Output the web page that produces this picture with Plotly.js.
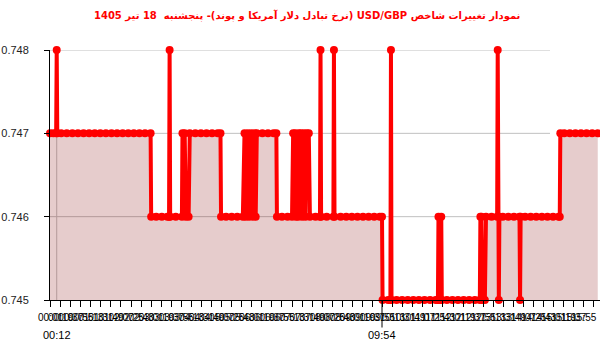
<!DOCTYPE html>
<html>
<head>
<meta charset="utf-8">
<script src="https://cdn.plot.ly/plotly-3.0.1.min.js"></script>
<style>html,body{margin:0;padding:0;background:#fff;}#chart{width:600px;height:352px;}</style>
</head>
<body>
<div id="chart"></div>
<script>
var day = '2025-07-09 ';
var times = [
 '00:00','00:06','00:11','00:12','00:13','00:20','00:30','00:40','00:50','01:00','01:10','01:20','01:30','01:40','01:50',
 '02:00','02:10','02:20','02:30','02:40','02:50','03:00','03:01','03:10','03:20','03:30','03:33','03:34','03:35','03:45',
 '03:56','03:57','04:01','04:03','04:08','04:10','04:20','04:30','04:40','04:50','05:00','05:05','05:06','05:15','05:25',
 '05:35','05:45','05:48','05:50','05:54','05:56','06:00','06:03','06:06','06:08','06:10','06:20','06:30','06:40','06:45',
 '06:46','06:55','07:05','07:13','07:15','07:19','07:20','07:24','07:25','07:29','07:31','07:34','07:37','07:39','07:43',
 '07:45','07:55','08:03','08:04','08:05','08:15','08:27','08:28','08:29','08:40','08:50','09:00','09:10','09:20','09:30',
 '09:40','09:50','09:54','09:55','10:05','10:09','10:10','10:11','10:20','10:30','10:40','10:50','11:00','11:10','11:20',
 '11:30','11:34','11:35','11:36','11:39','11:40','11:41','11:50','12:00','12:10','12:20','12:30','12:40','12:49','12:50',
 '12:52','12:53','12:58','13:00','13:10','13:20','13:21','13:23','13:24','13:30','13:40','13:50','14:00','14:01','14:02',
 '14:10','14:20','14:30','14:40','14:50','15:00','15:10','15:12','15:13','15:20','15:30','15:40','15:50','16:00','16:10',
 '16:20'
];
var values = [
 0.747,0.747,0.747,0.748,0.747,0.747,0.747,0.747,0.747,0.747,0.747,0.747,0.747,0.747,0.747,
 0.747,0.747,0.747,0.747,0.747,0.747,0.747,0.746,0.746,0.746,0.746,0.746,0.748,0.746,0.746,
 0.746,0.747,0.747,0.746,0.746,0.747,0.747,0.747,0.747,0.747,0.747,0.747,0.746,0.746,0.746,
 0.746,0.746,0.747,0.746,0.747,0.746,0.747,0.746,0.747,0.746,0.747,0.747,0.747,0.747,0.747,
 0.746,0.746,0.746,0.746,0.747,0.747,0.746,0.746,0.747,0.747,0.746,0.747,0.746,0.747,0.747,
 0.746,0.746,0.746,0.748,0.746,0.746,0.746,0.748,0.746,0.746,0.746,0.746,0.746,0.746,0.746,
 0.746,0.746,0.746,0.745,0.745,0.745,0.748,0.745,0.745,0.745,0.745,0.745,0.745,0.745,0.745,
 0.745,0.745,0.746,0.745,0.745,0.746,0.745,0.745,0.745,0.745,0.745,0.745,0.745,0.745,0.746,
 0.746,0.745,0.745,0.746,0.746,0.746,0.748,0.745,0.746,0.746,0.746,0.746,0.746,0.745,0.746,
 0.746,0.746,0.746,0.746,0.746,0.746,0.746,0.746,0.747,0.747,0.747,0.747,0.747,0.747,0.747,
 0.747
];
var yTicks = [0.745, 0.746, 0.747, 0.748];
var markTimes = ['00:12', '09:54'];
var titleText = 'نمودار تغییرات شاخص USD/GBP (نرخ تبادل دلار آمریکا و پوند)- پنجشنبه  18 تیر 1405';

var x = times.map(function(t){ return day + t; });

var trace = {
  x: x, y: values, type: 'scatter', mode: 'lines+markers',
  line: {color: '#ff0000', width: 4},
  marker: {color: '#ff0000', size: 8},
  fill: 'tozeroy', fillcolor: 'rgba(128,0,0,0.2)',
  cliponaxis: false, hoverinfo: 'none'
};

var shapes = yTicks.slice(1).map(function(v){
  return {type:'line', xref:'paper', yref:'y', x0:0, x1:500/550, y0:v, y1:v,
          line:{color:'#c0c0c0', width:1}, layer:'below'};
});
shapes.push({type:'line', xref:'x', yref:'paper', x0:day+markTimes[0], x1:day+markTimes[0], y0:0, y1:1,
             line:{color:'#c0c0c0', width:1}, layer:'below'});
shapes.push({type:'line', xref:'x', yref:'paper', x0:day+markTimes[1], x1:day+markTimes[1], y0:0, y1:-0.11,
             line:{color:'#000', width:1}, layer:'above'});

var annotations = markTimes.map(function(t){
  return {x: day+t, xref:'x', yref:'paper', y:0, yanchor:'top', yshift:-27, showarrow:false,
          text:t, font:{family:'Liberation Sans, Arial, sans-serif', size:11, color:'#000'}};
});

var layout = {
  width: 600, height: 352,
  margin: {l:50, r:0, t:50, b:52, pad:0},
  paper_bgcolor:'#fff', plot_bgcolor:'#fff',
  showlegend:false,
  title: {text: '\u202B' + titleText + '\u202C', x: 0.512, xref:'container', y: 0.955, yanchor:'middle',
          font:{family:'DejaVu Sans, sans-serif', size:10, color:'#ff0000', weight:'bold'}},
  xaxis: {
    type:'date', range:[day+'00:00', day+'16:24'],
    tickmode:'linear', tick0: day+'00:19', dtick: 18*60*1000, tickformat:'%H:%M',
    tickangle:0, ticks:'outside', ticklen:6, tickcolor:'#000',
    showline:true, linecolor:'#000', linewidth:1, showgrid:false, zeroline:false,
    tickfont:{family:'Liberation Sans, Arial, sans-serif', size:10, color:'#000'},
    ticklabelstandoff: 2
  },
  yaxis: {
    range:[0.745, 0.748], tickmode:'array', tickvals:yTicks, tickformat:'.3f',
    ticks:'outside', ticklen:5, tickcolor:'#000', showline:true, linecolor:'#000', linewidth:1,
    showgrid:false, zeroline:false, ticklabelstandoff: 13,
    tickfont:{family:'Liberation Sans, Arial, sans-serif', size:11, color:'#222'}
  },
  shapes: shapes,
  annotations: annotations
};

Plotly.newPlot('chart', [trace], layout, {displayModeBar:false, staticPlot:true});
</script>
</body>
</html>
